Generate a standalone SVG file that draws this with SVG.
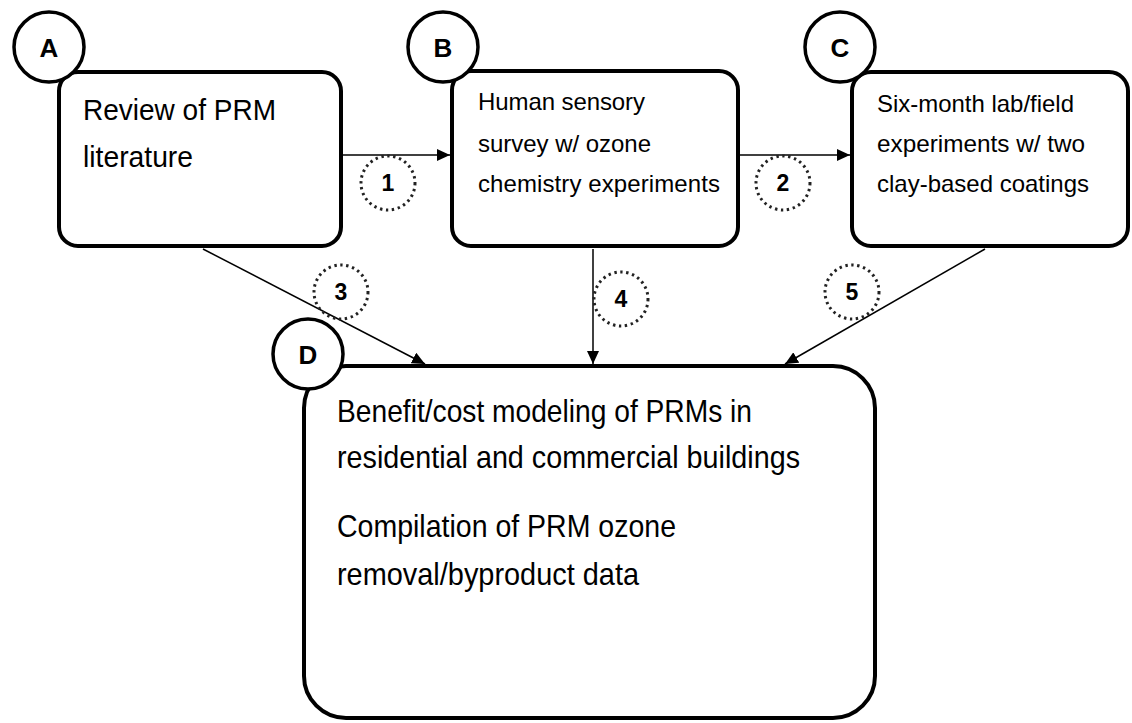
<svg xmlns="http://www.w3.org/2000/svg" width="1132" height="723" viewBox="0 0 1132 723">
<style>
.box{fill:#fff;stroke:#000;stroke-width:4}
.tag{fill:#fff;stroke:#000;stroke-width:3.5}
.tagt{font-family:"Liberation Sans",Arial,sans-serif;font-weight:bold;font-size:26px;text-anchor:middle;fill:#000}
.dot{fill:none;stroke:#222;stroke-width:3;stroke-dasharray:2.4 3.6}
.num{font-family:"Liberation Sans",Arial,sans-serif;font-weight:bold;font-size:23px;text-anchor:middle;fill:#000}
.big{font-family:"Liberation Sans",Arial,sans-serif;font-size:30px;fill:#000}
.bigd{font-family:"Liberation Sans",Arial,sans-serif;font-size:32px;fill:#000}
.mid{font-family:"Liberation Sans",Arial,sans-serif;font-size:24px;fill:#000}
.con{stroke:#000;stroke-width:1.5;fill:none;marker-end:url(#ah)}
</style>
<defs>
<marker id="ah" markerUnits="userSpaceOnUse" markerWidth="14" markerHeight="12" refX="13" refY="6" orient="auto">
<path d="M0,0 L13,6 L0,12 z" fill="#000"/>
</marker>
</defs>
<rect width="1132" height="723" fill="#fff"/>
<g id="connectors">
<line class="con" x1="343" y1="155" x2="450" y2="155"/>
<line class="con" x1="740" y1="155" x2="850" y2="155"/>
<line class="con" x1="203" y1="249" x2="425" y2="364"/>
<line class="con" x1="593" y1="249" x2="593" y2="364"/>
<line class="con" x1="985" y1="249" x2="785" y2="364"/>
<circle class="dot" cx="388" cy="183" r="27"/>
<text class="num" x="388" y="191">1</text>
<circle class="dot" cx="783" cy="183" r="27"/>
<text class="num" x="783" y="191">2</text>
<circle class="dot" cx="341" cy="292" r="27"/>
<text class="num" x="341" y="300">3</text>
<circle class="dot" cx="621" cy="299" r="27"/>
<text class="num" x="621" y="307">4</text>
<circle class="dot" cx="852" cy="292" r="27"/>
<text class="num" x="852" y="300">5</text>
</g>
<g id="nodeA">
<rect class="box" x="59" y="72" width="282" height="174" rx="19"/>
<circle class="tag" cx="49" cy="47" r="35"/>
<text class="tagt" x="49" y="57">A</text>
<text class="big" x="83" y="120" textLength="193" lengthAdjust="spacingAndGlyphs">Review of PRM</text>
<text class="big" x="83" y="167" textLength="110" lengthAdjust="spacingAndGlyphs">literature</text>
</g>
<g id="nodeB">
<rect class="box" x="452" y="71" width="286" height="175" rx="19"/>
<circle class="tag" cx="443" cy="47" r="35"/>
<text class="tagt" x="443" y="57">B</text>
<text class="mid" x="478" y="110" textLength="167">Human sensory</text>
<text class="mid" x="478" y="152" textLength="173">survey w/ ozone</text>
<text class="mid" x="478" y="192" textLength="242">chemistry experiments</text>
</g>
<g id="nodeC">
<rect class="box" x="852" y="72" width="276" height="174" rx="19"/>
<circle class="tag" cx="840" cy="47" r="35"/>
<text class="tagt" x="840" y="57">C</text>
<text class="mid" x="877" y="112" textLength="197" lengthAdjust="spacingAndGlyphs">Six-month lab/field</text>
<text class="mid" x="877" y="152" textLength="208" lengthAdjust="spacingAndGlyphs">experiments w/ two</text>
<text class="mid" x="877" y="192" textLength="212" lengthAdjust="spacingAndGlyphs">clay-based coatings</text>
</g>
<g id="nodeD">
<rect class="box" x="304" y="366" width="571" height="352" rx="42"/>
<circle class="tag" cx="308" cy="354" r="35"/>
<text class="tagt" x="308" y="364">D</text>
<text class="bigd" x="337" y="422" textLength="415" lengthAdjust="spacingAndGlyphs">Benefit/cost modeling of PRMs in</text>
<text class="bigd" x="337" y="468" textLength="463" lengthAdjust="spacingAndGlyphs">residential and commercial buildings</text>
<text class="bigd" x="337" y="537" textLength="339" lengthAdjust="spacingAndGlyphs">Compilation of PRM ozone</text>
<text class="bigd" x="337" y="585" textLength="302" lengthAdjust="spacingAndGlyphs">removal/byproduct data</text>
</g>
</svg>
